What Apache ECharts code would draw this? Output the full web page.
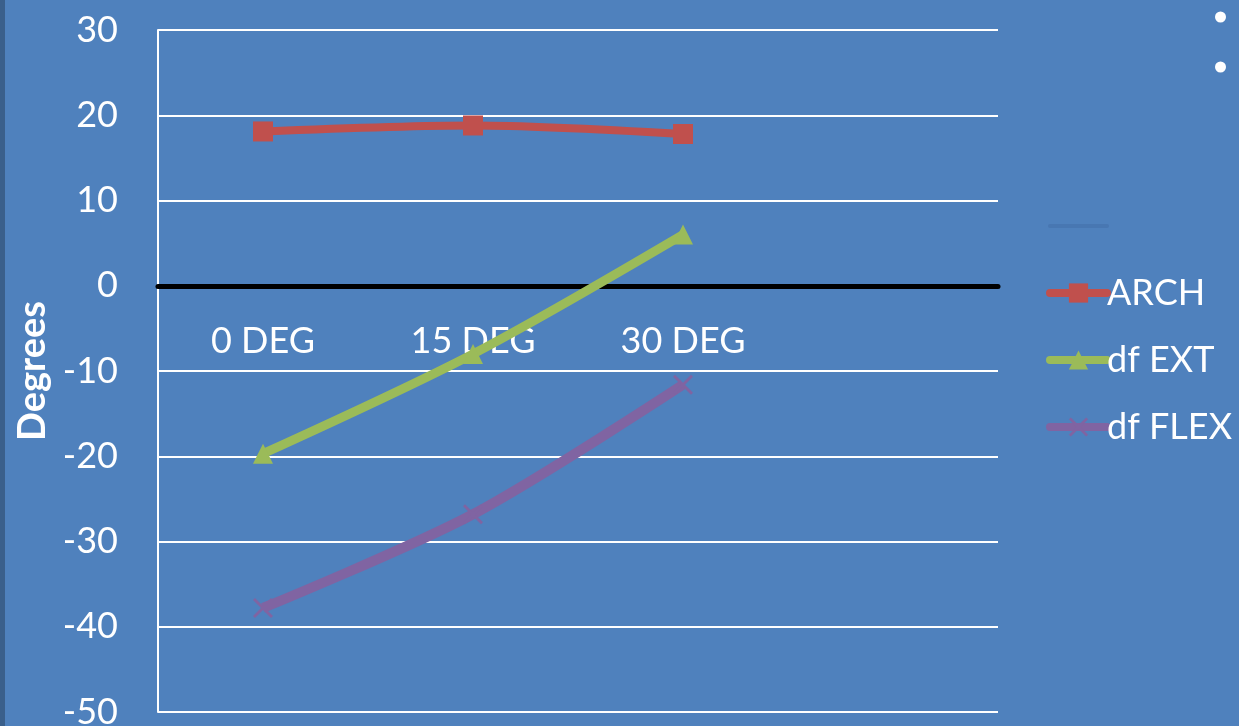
<!DOCTYPE html>
<html><head><meta charset="utf-8">
<script src="https://cdn.jsdelivr.net/npm/echarts@6/dist/echarts.min.js"></script>
<style>html,body{margin:0;padding:0;background:#4F81BD;}#c{width:1239px;height:726px;}</style>
</head><body><div id="c"></div>
<script>
var categories = ['0 DEG', '15 DEG', '30 DEG', ''];
var blankSeries = [null, null, null, null];
var arch = [18.1, 18.8, 17.8, null];
var dfExt = [-19.7, -8.0, 6.0, null];
var dfFlex = [-37.8, -26.8, -11.6, null];
var yTicks = { min: -50, max: 30, interval: 10 };

var FONT = 'Lato, "Open Sans", sans-serif';
var xMark = 'path://M0,1L1,0L5,4L9,0L10,1L6,5L10,9L9,10L5,6L1,10L0,9L4,5Z';
var GRID_TOP = 30, GRID_H = 682;
var zeroOffset = -GRID_H * (0 - yTicks.min) / (yTicks.max - yTicks.min);
var chart = echarts.init(document.getElementById('c'));
chart.setOption({
  backgroundColor: '#4F81BD',
  animation: false,
  grid: { left: 158, top: GRID_TOP, width: 840, height: GRID_H, containLabel: false, outerBoundsMode: 'none' },
  legend: {
    orient: 'vertical', left: 1046, top: 206, padding: 0,
    itemWidth: 57, itemHeight: 24, itemGap: 27,
    lineStyle: { width: 8, cap: 'round' },
    textStyle: { color: '#FFFFFF', fontSize: 36, fontFamily: FONT, lineHeight: 40, padding: [0, 0, 0, -5] },
    data: [{ name: ' ', itemStyle: { opacity: 0 }, lineStyle: { width: 4 } }, 'ARCH', 'df EXT', 'df FLEX']
  },
  xAxis: {
    type: 'category', data: categories, boundaryGap: true,
    offset: zeroOffset,
    axisLine: { onZero: false, lineStyle: { color: '#000000', width: 5 } },
    axisTick: { show: false },
    axisLabel: { color: '#FFFFFF', fontSize: 36, fontFamily: FONT, margin: 38, interval: 0 },
    splitLine: { show: false }
  },
  yAxis: {
    type: 'value', min: yTicks.min, max: yTicks.max, interval: yTicks.interval,
    name: 'Degrees', nameLocation: 'middle', nameGap: 103, nameRotate: 90,
    nameTextStyle: { color: '#FFFFFF', fontSize: 38, fontWeight: 'bold', fontFamily: FONT },
    axisLine: { show: true, lineStyle: { color: '#FFFFFF', width: 2 } },
    axisTick: { show: false },
    axisLabel: { color: '#FFFFFF', fontSize: 36, fontFamily: FONT, margin: 40 },
    splitLine: { show: true, lineStyle: { color: '#FFFFFF', width: 2 } }
  },
  graphic: [
    { type: 'rect', left: 0, top: 0, shape: { width: 5, height: 726 }, style: { fill: '#3A5F8B' } },
    { type: 'circle', shape: { cx: 1220.5, cy: 17, r: 5.5 }, style: { fill: '#FFFFFF' } },
    { type: 'circle', shape: { cx: 1220.5, cy: 67, r: 5.5 }, style: { fill: '#FFFFFF' } }
  ],
  series: [
    { name: ' ', type: 'line', data: blankSeries, symbol: 'none', color: '#4877B2',
      lineStyle: { width: 4, color: '#4877B2' } },
    { name: 'ARCH', type: 'line', data: arch, smooth: 0.3, symbol: 'rect', symbolSize: 20,
      color: '#C0504D', lineStyle: { width: 8, color: '#C0504D' }, itemStyle: { color: '#C0504D' } },
    { name: 'df EXT', type: 'line', data: dfExt, smooth: 0.3, symbol: 'triangle', symbolSize: 20,
      color: '#9BBB59', lineStyle: { width: 9, color: '#9BBB59' }, itemStyle: { color: '#9BBB59' } },
    { name: 'df FLEX', type: 'line', data: dfFlex, smooth: 0.3, symbol: xMark, symbolSize: 20,
      color: '#8064A2', lineStyle: { width: 10, color: '#8064A2' }, itemStyle: { color: '#8064A2' } }
  ]
});
</script></body></html>
